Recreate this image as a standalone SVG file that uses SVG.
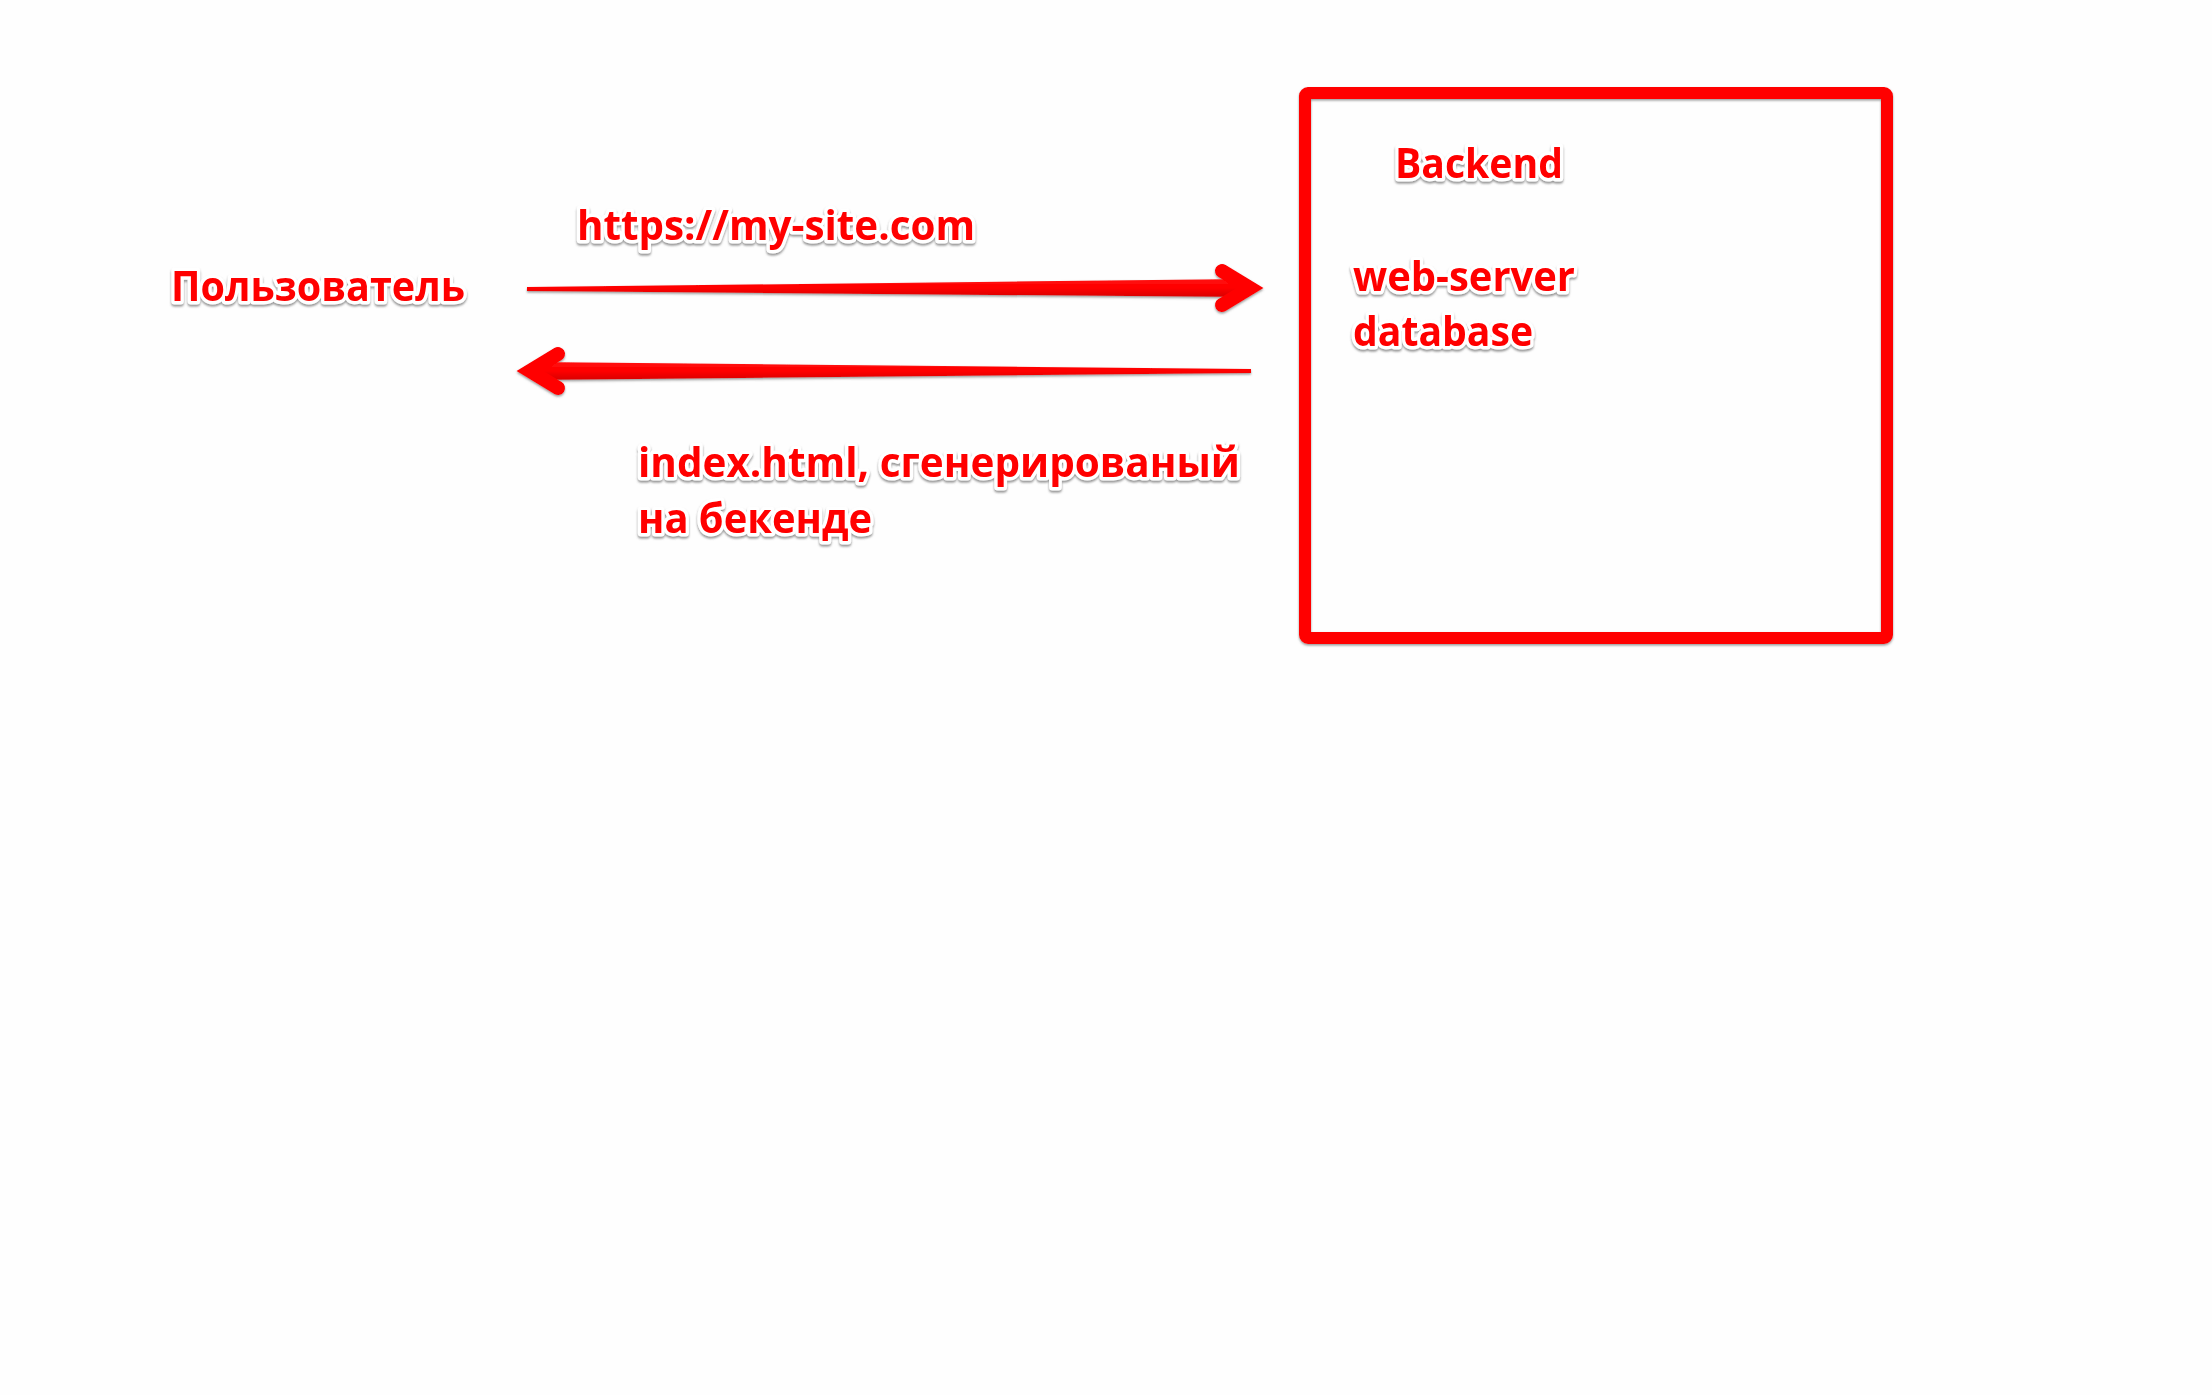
<svg xmlns="http://www.w3.org/2000/svg" width="2212" height="1395" viewBox="0 0 2212 1395">
<defs>
<filter id="tsh" x="-10%" y="-30%" width="120%" height="160%">
<feDropShadow dx="0" dy="2" stdDeviation="1" flood-color="#666" flood-opacity="0.7"/>
</filter>
<filter id="ash" x="-5%" y="-30%" width="110%" height="160%">
<feDropShadow dx="0" dy="1.5" stdDeviation="0.8" flood-color="#555" flood-opacity="0.6"/>
</filter>
<linearGradient id="shaft" x1="0" y1="0" x2="0" y2="1">
<stop offset="0" stop-color="#ff1010"/>
<stop offset="0.5" stop-color="#ff0000"/>
<stop offset="1" stop-color="#d80000"/>
</linearGradient>
<style>
.lbl{font-family:"Open Sans","Noto Sans","DejaVu Sans",sans-serif;font-weight:bold;font-size:42px;fill:#ff0000;stroke:#ffffff;stroke-width:7px;stroke-linejoin:round;paint-order:stroke;filter:url(#tsh)}
.head{fill:none;stroke:#ff0000;stroke-width:14;stroke-linecap:round;stroke-linejoin:miter;stroke-miterlimit:6}
</style>
</defs>
<rect x="0" y="0" width="2212" height="1395" fill="#fefefe"/>

<g id="user">
<text class="lbl" x="171" y="301" textLength="294" lengthAdjust="spacingAndGlyphs">Пользователь</text>
</g>

<g id="backend">
<rect x="1305" y="93" width="582" height="545" rx="3" fill="none" stroke="#ff0000" stroke-width="12" filter="url(#ash)"/>
<text class="lbl" x="1395" y="178" textLength="168" lengthAdjust="spacingAndGlyphs">Backend</text>
<text class="lbl" x="1353" y="291" textLength="222" lengthAdjust="spacingAndGlyphs">web-server</text>
<text class="lbl" x="1353" y="346" textLength="180" lengthAdjust="spacingAndGlyphs">database</text>
</g>

<g id="connectors">
<g id="request" filter="url(#ash)">
<polygon points="527,287 1246,279 1246,297 527,291" fill="url(#shaft)"/>
<polyline class="head" points="1222,271 1250,288 1222,305"/>
</g>
<text class="lbl" x="577" y="240" textLength="398" lengthAdjust="spacingAndGlyphs">https://my-site.com</text>
<g id="response" filter="url(#ash)">
<polygon points="1251,369 534,362 534,380 1251,373" fill="url(#shaft)"/>
<polyline class="head" points="558,354 530,371 558,388"/>
</g>
<text class="lbl" x="638" y="477" textLength="602" lengthAdjust="spacingAndGlyphs">index.html, сгенерированый</text>
<text class="lbl" x="638" y="533" textLength="234" lengthAdjust="spacingAndGlyphs">на бекенде</text>
</g>
</svg>
